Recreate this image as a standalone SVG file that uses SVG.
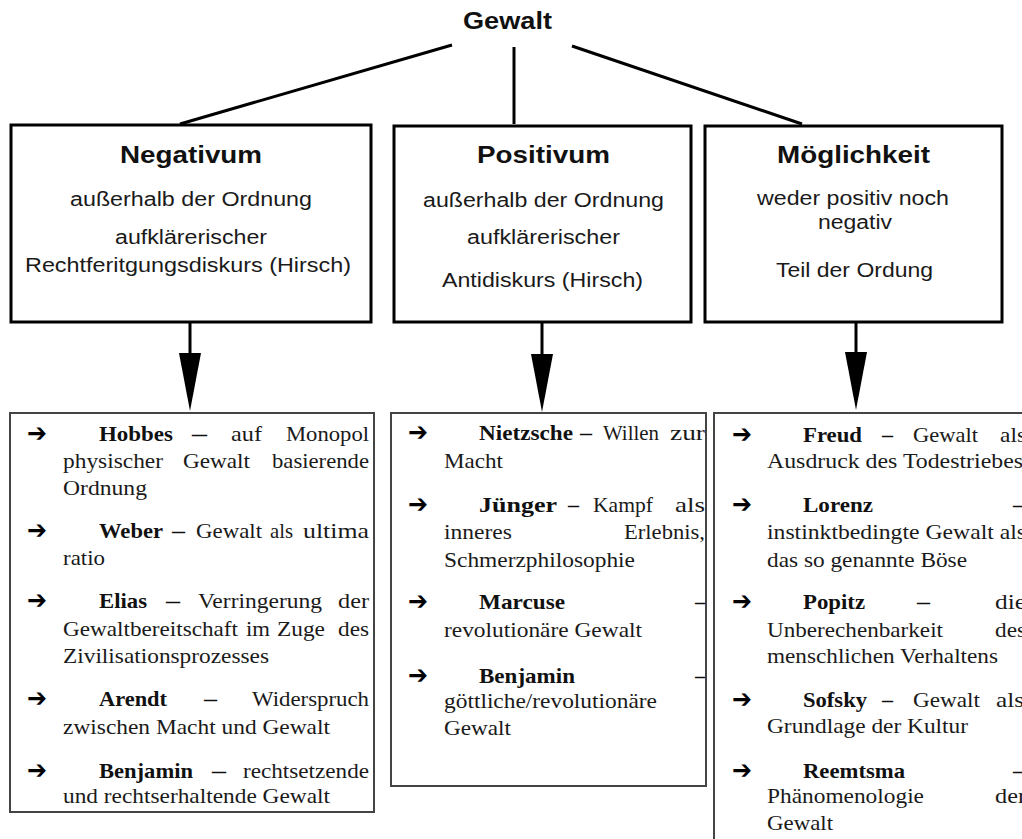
<svg xmlns="http://www.w3.org/2000/svg" width="1022" height="839" viewBox="0 0 1022 839">
<style>
.bg{fill:#ffffff}
.top{fill:#ffffff;stroke:#000;stroke-width:3}
.bot{fill:#ffffff;stroke:#444;stroke-width:2}
.con{stroke:#000;stroke-width:3;fill:none}
.sh{font-family:"Liberation Sans",Arial,sans-serif;font-weight:bold;font-size:24px;fill:#111}
.sn{font-family:"Liberation Sans",Arial,sans-serif;font-size:20px;fill:#1a1a1a}
.s{font-family:"Liberation Serif","Times New Roman",serif;font-size:21px;fill:#1a1a1a}
.sb{font-family:"Liberation Serif","Times New Roman",serif;font-size:21px;font-weight:bold;fill:#111}
.ar{font-family:"DejaVu Sans",sans-serif;font-size:26px;font-weight:bold;fill:#000}
</style>
<defs>
<marker id="head" viewBox="0 0 58 22" markerWidth="58" markerHeight="22" refX="0" refY="11" orient="auto" markerUnits="userSpaceOnUse">
<path d="M0,0 L58,11 L0,22 Z" fill="#000"/>
</marker>
</defs>
<rect class="bg" x="0" y="0" width="1022" height="839"/>

<g id="connectors">
<line class="con" x1="452" y1="45" x2="180" y2="124"/>
<line class="con" x1="514" y1="47" x2="514" y2="124"/>
<line class="con" x1="572" y1="46" x2="802" y2="124"/>
<line class="con" x1="190" y1="322" x2="190" y2="353" marker-end="url(#head)"/>
<line class="con" x1="542" y1="322" x2="542" y2="354" marker-end="url(#head)"/>
<line class="con" x1="856" y1="322" x2="856" y2="352" marker-end="url(#head)"/>
</g>

<g id="gewalt">
<text class="sh" x="463" y="29" textLength="89" lengthAdjust="spacingAndGlyphs">Gewalt</text>
</g>

<g id="negativum">
<rect class="top" x="11" y="125" width="360" height="197"/>
<text class="sh" x="120" y="163" textLength="142" lengthAdjust="spacingAndGlyphs">Negativum</text>
<text class="sn" x="70" y="206" textLength="242" lengthAdjust="spacingAndGlyphs">außerhalb der Ordnung</text>
<text class="sn" x="115" y="244" textLength="152" lengthAdjust="spacingAndGlyphs">aufklärerischer</text>
<text class="sn" x="25" y="272" textLength="326" lengthAdjust="spacingAndGlyphs">Rechtferitgungsdiskurs (Hirsch)</text>
</g>

<g id="positivum">
<rect class="top" x="394" y="126" width="297" height="196"/>
<text class="sh" x="477" y="163" textLength="133" lengthAdjust="spacingAndGlyphs">Positivum</text>
<text class="sn" x="423" y="207" textLength="241" lengthAdjust="spacingAndGlyphs">außerhalb der Ordnung</text>
<text class="sn" x="467" y="244" textLength="153" lengthAdjust="spacingAndGlyphs">aufklärerischer</text>
<text class="sn" x="442" y="287" textLength="201" lengthAdjust="spacingAndGlyphs">Antidiskurs (Hirsch)</text>
</g>

<g id="moeglichkeit">
<rect class="top" x="705" y="126" width="297" height="196"/>
<text class="sh" x="777" y="163" textLength="153" lengthAdjust="spacingAndGlyphs">Möglichkeit</text>
<text class="sn" x="757" y="205" textLength="192" lengthAdjust="spacingAndGlyphs">weder positiv noch</text>
<text class="sn" x="818" y="229" textLength="74" lengthAdjust="spacingAndGlyphs">negativ</text>
<text class="sn" x="776" y="277" textLength="157" lengthAdjust="spacingAndGlyphs">Teil der Ordung</text>
</g>

<g id="list-negativum">
<rect class="bot" x="10" y="413" width="364" height="399"/>
<text class="ar" x="27" y="442" textLength="20" lengthAdjust="spacingAndGlyphs">➔</text>
<text class="sb" x="99" y="441" textLength="74" lengthAdjust="spacingAndGlyphs">Hobbes</text>
<text class="sb" x="192" y="441" textLength="15" lengthAdjust="spacingAndGlyphs">–</text>
<text class="s" x="231" y="441" textLength="31" lengthAdjust="spacingAndGlyphs">auf</text>
<text class="s" x="286" y="441" textLength="83" lengthAdjust="spacingAndGlyphs">Monopol</text>
<text class="s" x="63" y="468" textLength="100" lengthAdjust="spacingAndGlyphs">physischer</text>
<text class="s" x="183" y="468" textLength="67" lengthAdjust="spacingAndGlyphs">Gewalt</text>
<text class="s" x="272" y="468" textLength="97" lengthAdjust="spacingAndGlyphs">basierende</text>
<text class="s" x="63" y="495" textLength="84" lengthAdjust="spacingAndGlyphs">Ordnung</text>

<text class="ar" x="27" y="539" textLength="20" lengthAdjust="spacingAndGlyphs">➔</text>
<text class="sb" x="99" y="538" textLength="64" lengthAdjust="spacingAndGlyphs">Weber</text>
<text class="sb" x="172" y="538" textLength="13" lengthAdjust="spacingAndGlyphs">–</text>
<text class="s" x="196" y="538" textLength="66" lengthAdjust="spacingAndGlyphs">Gewalt</text>
<text class="s" x="270" y="538" textLength="23" lengthAdjust="spacingAndGlyphs">als</text>
<text class="s" x="303" y="538" textLength="66" lengthAdjust="spacingAndGlyphs">ultima</text>
<text class="s" x="63" y="565" textLength="42" lengthAdjust="spacingAndGlyphs">ratio</text>

<text class="ar" x="27" y="609" textLength="20" lengthAdjust="spacingAndGlyphs">➔</text>
<text class="sb" x="99" y="608" textLength="48" lengthAdjust="spacingAndGlyphs">Elias</text>
<text class="sb" x="166" y="608" textLength="14" lengthAdjust="spacingAndGlyphs">–</text>
<text class="s" x="198" y="608" textLength="124" lengthAdjust="spacingAndGlyphs">Verringerung</text>
<text class="s" x="338" y="608" textLength="31" lengthAdjust="spacingAndGlyphs">der</text>
<text class="s" x="63" y="636" textLength="175" lengthAdjust="spacingAndGlyphs">Gewaltbereitschaft</text>
<text class="s" x="246" y="636" textLength="24" lengthAdjust="spacingAndGlyphs">im</text>
<text class="s" x="277" y="636" textLength="48" lengthAdjust="spacingAndGlyphs">Zuge</text>
<text class="s" x="338" y="636" textLength="31" lengthAdjust="spacingAndGlyphs">des</text>
<text class="s" x="63" y="663" textLength="206" lengthAdjust="spacingAndGlyphs">Zivilisationsprozesses</text>

<text class="ar" x="27" y="707" textLength="20" lengthAdjust="spacingAndGlyphs">➔</text>
<text class="sb" x="99" y="706" textLength="68" lengthAdjust="spacingAndGlyphs">Arendt</text>
<text class="sb" x="204" y="706" textLength="13" lengthAdjust="spacingAndGlyphs">–</text>
<text class="s" x="252" y="706" textLength="117" lengthAdjust="spacingAndGlyphs">Widerspruch</text>
<text class="s" x="63" y="734" textLength="267" lengthAdjust="spacingAndGlyphs">zwischen Macht und Gewalt</text>

<text class="ar" x="27" y="779" textLength="20" lengthAdjust="spacingAndGlyphs">➔</text>
<text class="sb" x="99" y="778" textLength="94" lengthAdjust="spacingAndGlyphs">Benjamin</text>
<text class="sb" x="212" y="778" textLength="14" lengthAdjust="spacingAndGlyphs">–</text>
<text class="s" x="243" y="778" textLength="126" lengthAdjust="spacingAndGlyphs">rechtsetzende</text>
<text class="s" x="63" y="803" textLength="267" lengthAdjust="spacingAndGlyphs">und rechtserhaltende Gewalt</text>
</g>

<g id="list-positivum">
<rect class="bot" x="391" y="413" width="315" height="373"/>
<text class="ar" x="408" y="441" textLength="20" lengthAdjust="spacingAndGlyphs">➔</text>
<text class="sb" x="479" y="440" textLength="94" lengthAdjust="spacingAndGlyphs">Nietzsche</text>
<text class="sb" x="580" y="440" textLength="12" lengthAdjust="spacingAndGlyphs">–</text>
<text class="s" x="603" y="440" textLength="56" lengthAdjust="spacingAndGlyphs">Willen</text>
<text class="s" x="670" y="440" textLength="35" lengthAdjust="spacingAndGlyphs">zur</text>
<text class="s" x="444" y="468" textLength="59" lengthAdjust="spacingAndGlyphs">Macht</text>

<text class="ar" x="408" y="513" textLength="20" lengthAdjust="spacingAndGlyphs">➔</text>
<text class="sb" x="479" y="512" textLength="78" lengthAdjust="spacingAndGlyphs">Jünger</text>
<text class="sb" x="568" y="512" textLength="11" lengthAdjust="spacingAndGlyphs">–</text>
<text class="s" x="593" y="512" textLength="60" lengthAdjust="spacingAndGlyphs">Kampf</text>
<text class="s" x="675" y="512" textLength="30" lengthAdjust="spacingAndGlyphs">als</text>
<text class="s" x="444" y="539" textLength="68" lengthAdjust="spacingAndGlyphs">inneres</text>
<text class="s" x="624" y="539" textLength="81" lengthAdjust="spacingAndGlyphs">Erlebnis,</text>
<text class="s" x="444" y="567" textLength="191" lengthAdjust="spacingAndGlyphs">Schmerzphilosophie</text>

<text class="ar" x="408" y="610" textLength="20" lengthAdjust="spacingAndGlyphs">➔</text>
<text class="sb" x="479" y="609" textLength="86" lengthAdjust="spacingAndGlyphs">Marcuse</text>
<text class="sb" x="695" y="609" textLength="10" lengthAdjust="spacingAndGlyphs">–</text>
<text class="s" x="444" y="637" textLength="198" lengthAdjust="spacingAndGlyphs">revolutionäre Gewalt</text>

<text class="ar" x="408" y="684" textLength="20" lengthAdjust="spacingAndGlyphs">➔</text>
<text class="sb" x="479" y="683" textLength="96" lengthAdjust="spacingAndGlyphs">Benjamin</text>
<text class="sb" x="695" y="683" textLength="10" lengthAdjust="spacingAndGlyphs">–</text>
<text class="s" x="444" y="708" textLength="213" lengthAdjust="spacingAndGlyphs">göttliche/revolutionäre</text>
<text class="s" x="444" y="735" textLength="67" lengthAdjust="spacingAndGlyphs">Gewalt</text>
</g>

<g id="list-moeglichkeit">
<rect class="bot" x="714" y="413" width="400" height="500"/>
<text class="ar" x="732" y="443" textLength="20" lengthAdjust="spacingAndGlyphs">➔</text>
<text class="sb" x="803" y="442" textLength="59" lengthAdjust="spacingAndGlyphs">Freud</text>
<text class="sb" x="882" y="442" textLength="11" lengthAdjust="spacingAndGlyphs">–</text>
<text class="s" x="913" y="442" textLength="65" lengthAdjust="spacingAndGlyphs">Gewalt</text>
<text class="s" x="1000" y="442" textLength="26" lengthAdjust="spacingAndGlyphs">als</text>
<text class="s" x="767" y="468" textLength="256" lengthAdjust="spacingAndGlyphs">Ausdruck des Todestriebes</text>

<text class="ar" x="732" y="513" textLength="20" lengthAdjust="spacingAndGlyphs">➔</text>
<text class="sb" x="803" y="512" textLength="70" lengthAdjust="spacingAndGlyphs">Lorenz</text>
<text class="sb" x="1013" y="512" textLength="12" lengthAdjust="spacingAndGlyphs">–</text>
<text class="s" x="767" y="539" textLength="259" lengthAdjust="spacingAndGlyphs">instinktbedingte Gewalt als</text>
<text class="s" x="767" y="567" textLength="200" lengthAdjust="spacingAndGlyphs">das so genannte Böse</text>

<text class="ar" x="732" y="610" textLength="20" lengthAdjust="spacingAndGlyphs">➔</text>
<text class="sb" x="803" y="609" textLength="62" lengthAdjust="spacingAndGlyphs">Popitz</text>
<text class="sb" x="917" y="609" textLength="13" lengthAdjust="spacingAndGlyphs">–</text>
<text class="s" x="995" y="609" textLength="31" lengthAdjust="spacingAndGlyphs">die</text>
<text class="s" x="767" y="637" textLength="176" lengthAdjust="spacingAndGlyphs">Unberechenbarkeit</text>
<text class="s" x="995" y="637" textLength="31" lengthAdjust="spacingAndGlyphs">des</text>
<text class="s" x="767" y="663" textLength="231" lengthAdjust="spacingAndGlyphs">menschlichen Verhaltens</text>

<text class="ar" x="732" y="708" textLength="20" lengthAdjust="spacingAndGlyphs">➔</text>
<text class="sb" x="803" y="707" textLength="64" lengthAdjust="spacingAndGlyphs">Sofsky</text>
<text class="sb" x="882" y="707" textLength="11" lengthAdjust="spacingAndGlyphs">–</text>
<text class="s" x="913" y="707" textLength="67" lengthAdjust="spacingAndGlyphs">Gewalt</text>
<text class="s" x="996" y="707" textLength="28" lengthAdjust="spacingAndGlyphs">als</text>
<text class="s" x="767" y="733" textLength="201" lengthAdjust="spacingAndGlyphs">Grundlage der Kultur</text>

<text class="ar" x="732" y="779" textLength="20" lengthAdjust="spacingAndGlyphs">➔</text>
<text class="sb" x="803" y="778" textLength="102" lengthAdjust="spacingAndGlyphs">Reemtsma</text>
<text class="sb" x="1013" y="778" textLength="12" lengthAdjust="spacingAndGlyphs">–</text>
<text class="s" x="767" y="803" textLength="157" lengthAdjust="spacingAndGlyphs">Phänomenologie</text>
<text class="s" x="995" y="803" textLength="31" lengthAdjust="spacingAndGlyphs">der</text>
<text class="s" x="767" y="830" textLength="66" lengthAdjust="spacingAndGlyphs">Gewalt</text>
</g>
</svg>
